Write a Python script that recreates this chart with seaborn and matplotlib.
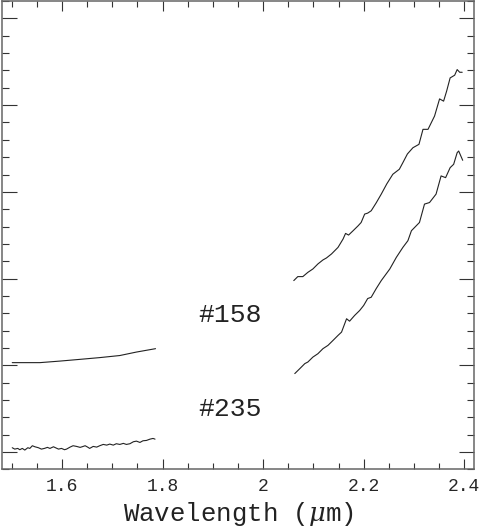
import numpy as np
import pandas as pd
import matplotlib
matplotlib.use("Agg")
import matplotlib.pyplot as plt
import seaborn as sns
from matplotlib.ticker import MultipleLocator, FixedLocator, FixedFormatter

# spectra of two sources, H band (left) and K band (right), arbitrary offset flux
h158_wave = [1.501, 1.556, 1.596, 1.636, 1.675, 1.715, 1.748, 1.786]
h158_flux = [1.031, 1.031, 1.049, 1.069, 1.089, 1.113, 1.153, 1.192]

k158_wave = [2.061, 2.069, 2.079, 2.089, 2.099, 2.109, 2.119, 2.126, 2.136, 2.149,
             2.159, 2.164, 2.170, 2.179, 2.189, 2.195, 2.202, 2.208, 2.215, 2.225,
             2.235, 2.246, 2.258, 2.271, 2.278, 2.287, 2.298, 2.310, 2.318, 2.328,
             2.341, 2.351, 2.359, 2.365, 2.372, 2.381, 2.386, 2.391, 2.396]
k158_flux = [1.977, 2.023, 2.023, 2.072, 2.111, 2.169, 2.215, 2.238, 2.284, 2.360,
             2.456, 2.521, 2.502, 2.552, 2.609, 2.647, 2.744, 2.755, 2.782, 2.874,
             2.974, 3.092, 3.203, 3.261, 3.337, 3.437, 3.509, 3.548, 3.721, 3.721,
             3.874, 4.072, 4.046, 4.161, 4.314, 4.345, 4.410, 4.379, 4.379]

h235_wave = [1.501, 1.506, 1.512, 1.516, 1.521, 1.526, 1.532, 1.536, 1.541, 1.546,
             1.553, 1.559, 1.565, 1.571, 1.576, 1.583, 1.587, 1.593, 1.599, 1.605,
             1.609, 1.616, 1.622, 1.629, 1.636, 1.640, 1.646, 1.651, 1.655, 1.662,
             1.669, 1.675, 1.682, 1.689, 1.695, 1.702, 1.708, 1.715, 1.722, 1.728,
             1.735, 1.742, 1.748, 1.755, 1.761, 1.768, 1.775, 1.781, 1.785]
h235_flux = [0.050, 0.034, 0.042, 0.027, 0.042, 0.023, 0.050, 0.042, 0.073, 0.061,
             0.050, 0.034, 0.042, 0.054, 0.042, 0.061, 0.050, 0.034, 0.042, 0.027,
             0.034, 0.057, 0.073, 0.065, 0.054, 0.061, 0.073, 0.057, 0.042, 0.065,
             0.057, 0.073, 0.088, 0.080, 0.092, 0.080, 0.096, 0.088, 0.100, 0.088,
             0.096, 0.119, 0.126, 0.111, 0.130, 0.134, 0.149, 0.157, 0.149]

k235_wave = [2.063, 2.073, 2.083, 2.089, 2.099, 2.109, 2.119, 2.129, 2.139, 2.149,
             2.156, 2.161, 2.166, 2.172, 2.182, 2.192, 2.200, 2.208, 2.215, 2.225,
             2.235, 2.252, 2.265, 2.278, 2.288, 2.295, 2.311, 2.321, 2.331, 2.344,
             2.354, 2.363, 2.372, 2.379, 2.386, 2.389, 2.397]
k235_flux = [0.905, 0.962, 1.020, 1.038, 1.095, 1.134, 1.192, 1.230, 1.287, 1.345,
             1.383, 1.460, 1.537, 1.509, 1.575, 1.632, 1.690, 1.770, 1.785, 1.885,
             1.977, 2.111, 2.245, 2.360, 2.437, 2.552, 2.647, 2.859, 2.877, 2.974,
             3.184, 3.164, 3.279, 3.318, 3.452, 3.471, 3.364]

labels = ["#158", "#235"]
label_pos = [(1.871, 1.575), (1.871, 0.494)]

xticks = [1.6, 1.8, 2.0, 2.2, 2.4]
xticklabels = ["1.6", "1.8", "2", "2.2", "2.4"]

sns.set_style("ticks")
plt.rcParams["font.family"] = ["Liberation Mono", "DejaVu Sans"]
plt.rcParams["mathtext.fontset"] = "dejavuserif"

fig = plt.figure(figsize=(4.81, 5.31), dpi=100)
ax = fig.add_axes([0.0035, 0.116, 0.9825, 0.882])

segments = [(h158_wave, h158_flux), (k158_wave, k158_flux),
            (h235_wave, h235_flux), (k235_wave, k235_flux)]
for w, f in segments:
    df = pd.DataFrame({"wave": w, "flux": f})
    sns.lineplot(data=df, x="wave", y="flux", ax=ax, sort=False,
                 color="#222222", linewidth=0.8, estimator=None)

for lab, (lx, ly) in zip(labels, label_pos):
    ax.text(lx, ly, lab, ha="left", va="center", fontsize=19, color="#222222")

ax.set_xlim(1.48, 2.42)
ax.set_ylim(-0.2, 5.2)
ax.xaxis.set_major_locator(FixedLocator(xticks))
ax.xaxis.set_major_formatter(FixedFormatter(xticklabels))
ax.xaxis.set_minor_locator(MultipleLocator(0.05))
ax.yaxis.set_major_locator(MultipleLocator(1))
ax.yaxis.set_minor_locator(MultipleLocator(0.2))
ax.set_yticklabels([])

ax.tick_params(axis="x", which="major", direction="in", top=True, bottom=True,
               length=7.2, width=0.8, color="#333333", labelsize=13, pad=6)
ax.tick_params(axis="x", which="minor", direction="in", top=True, bottom=True,
               length=4, width=0.8, color="#333333")
ax.tick_params(axis="y", which="major", direction="in", left=True, right=True,
               length=10.8, width=0.8, color="#333333", labelleft=False)
ax.tick_params(axis="y", which="minor", direction="in", left=True, right=True,
               length=5, width=0.8, color="#333333")

for sp in ax.spines.values():
    sp.set_visible(True)
    sp.set_color("#666666")
    sp.set_linewidth(1.1)

ax.set_xlabel("Wavelength ($\\mu$m)", fontsize=18.5, labelpad=4, color="#222222")
ax.set_ylabel("")

fig.savefig("out.png", dpi=100)
